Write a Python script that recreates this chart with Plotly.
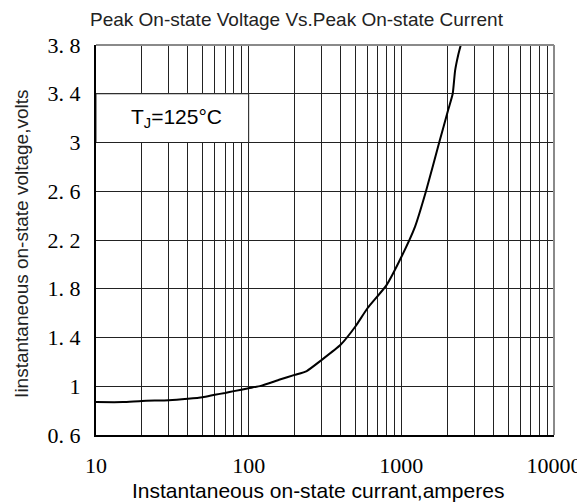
import plotly.graph_objects as go

# Data
current_a = [10, 15, 20, 30, 40, 50, 60, 70, 80, 100, 120, 160, 200, 240, 300, 400,
             500, 600, 800, 1000, 1230, 1450, 1770, 2030, 2170, 2250, 2360, 2500]
voltage_v = [0.87, 0.87, 0.88, 0.885, 0.897, 0.91, 0.93, 0.945, 0.96, 0.984, 1.003,
             1.055, 1.093, 1.125, 1.215, 1.34, 1.49, 1.64, 1.83, 2.06, 2.31, 2.60,
             3.00, 3.27, 3.40, 3.59, 3.72, 3.84]

x_tick_vals = [10, 100, 1000, 10000]
x_tick_text = ["10", "100", "1000", "10000"]
x_minor_vals = [d * 10 ** k for k in (1, 2, 3) for d in range(2, 10)]
y_tick_vals = [0.6, 1.0, 1.4, 1.8, 2.2, 2.6, 3.0, 3.4, 3.8]
y_tick_text = ["0. 6", "1", "1. 4", "1. 8", "2. 2", "2. 6", "3", "3. 4", "3. 8"]

title_text = "Peak On-state Voltage Vs.Peak On-state Current"
x_title = "Instantaneous on-state currant,amperes"
y_title = "Iinstantaneous on-state voltage,volts"
label_text = "T<sub>J</sub>=125°C"

GRID = "#222222"
SERIF = "Liberation Serif, Times New Roman, serif"
SANS = "Liberation Sans, Arial, sans-serif"

fig = go.Figure()
fig.add_trace(go.Scatter(x=current_a, y=voltage_v, mode="lines",
                         line=dict(color="black", width=2, shape="spline", smoothing=0.5),
                         showlegend=False, hoverinfo="skip"))

fig.update_layout(
    template="none",
    width=577, height=494,
    margin=dict(l=88, r=31, t=37, b=67, pad=0),
    paper_bgcolor="white", plot_bgcolor="white",
    showlegend=False,
    xaxis=dict(type="log", range=[1, 4], tickmode="array", tickvals=x_tick_vals,
               ticktext=x_tick_text, ticks="", showgrid=True, gridcolor=GRID, gridwidth=1,
               minor=dict(tickmode="array", tickvals=x_minor_vals, showgrid=True,
                          gridcolor=GRID, gridwidth=1, ticks=""),
               showline=True, linecolor="black", linewidth=2, mirror=False,
               tickfont=dict(family=SERIF, size=22, color="black"),
               ticklabelstandoff=10, zeroline=False, automargin=False),
    yaxis=dict(range=[0.6, 3.8], tickmode="array", tickvals=y_tick_vals,
               ticktext=y_tick_text, ticks="", showgrid=True, gridcolor=GRID, gridwidth=1,
               showline=True, linecolor="black", linewidth=2, mirror=False,
               tickfont=dict(family=SERIF, size=22, color="black"),
               ticklabelstandoff=9, zeroline=False, automargin=False),
    shapes=[
        # top and right frame in gray
        dict(type="line", xref="x domain", yref="y domain", x0=0, x1=1, y0=1, y1=1,
             line=dict(color="#8a8a8a", width=2)),
        dict(type="line", xref="x domain", yref="y domain", x0=1, x1=1, y0=0, y1=1,
             line=dict(color="#8a8a8a", width=2)),
        # label box
        dict(type="rect", xref="x", yref="y", x0=10, x1=100, y0=3.0, y1=3.4,
             fillcolor="white", line=dict(color=GRID, width=1), layer="above"),
    ],
    annotations=[
        dict(text=title_text, xref="paper", yref="paper", x=0.439, y=1.066,
             xanchor="center", yanchor="middle", showarrow=False,
             font=dict(family=SANS, size=19, color="#222222")),
        dict(text=x_title, xref="paper", yref="paper", x=0.485, y=-0.142,
             xanchor="center", yanchor="middle", showarrow=False,
             font=dict(family=SANS, size=21, color="black")),
        dict(text=y_title, xref="paper", yref="paper", x=-0.1616, y=0.49,
             xanchor="center", yanchor="middle", showarrow=False, textangle=-90,
             font=dict(family=SANS, size=19, color="#222222")),
        dict(text=label_text, xref="x domain", yref="y", x=0.175, y=3.2,
             xanchor="center", yanchor="middle", showarrow=False,
             font=dict(family=SANS, size=21, color="black")),
    ],
)

fig.write_html("out.html")
